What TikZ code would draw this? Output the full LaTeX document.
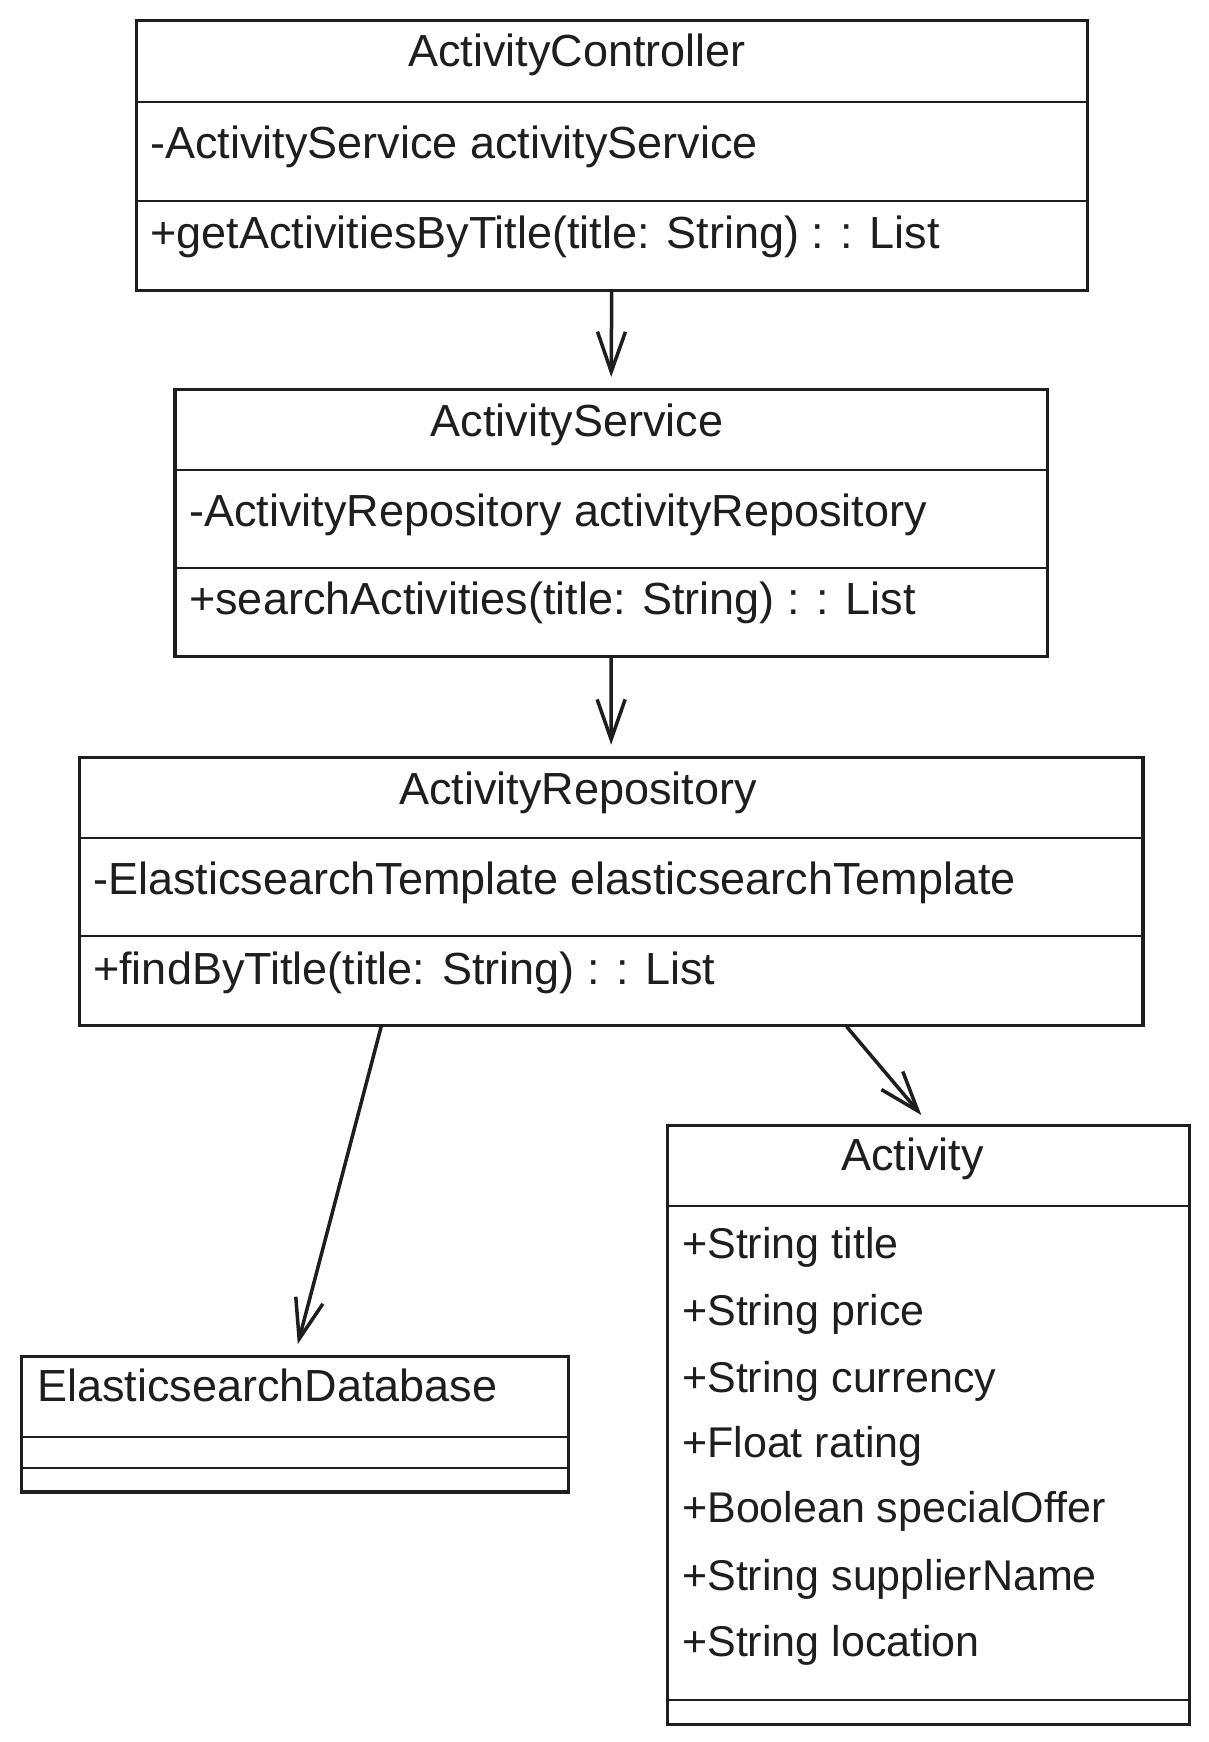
\documentclass[tikz,border=0pt]{standalone}
\usepackage{fontspec}
\setmainfont{Liberation Sans}
\usetikzlibrary{arrows.meta}
\definecolor{ink}{HTML}{1E1E1E}
\begin{document}
\begin{tikzpicture}[x=1pt,y=-1pt,
  box/.style={draw=ink, line width=3.2pt, anchor=north west, inner sep=0pt},
  divider/.style={draw=ink, line width=2.4pt},
  ctitle/.style={font=\fontsize{45}{54}\selectfont, anchor=base, inner sep=0pt, text=ink},
  member/.style={font=\fontsize{45}{54}\selectfont, anchor=base west, inner sep=0pt, text=ink},
  attr/.style={member, font=\fontsize{43}{52}\selectfont},
  arr/.style={draw=ink, line width=3.5pt, -{Straight Barb[length=40pt,width=28pt,line width=3.5pt]}, shorten >=11pt},
]
\useasboundingbox (0,0) rectangle (1208,1742);

% ActivityController
\node[box, minimum width=951.2pt, minimum height=270pt] (ac) at (134.5,19) {};
\draw[divider] ([yshift=-83pt]ac.north west) -- ([yshift=-83pt]ac.north east);
\draw[divider] ([yshift=-182pt]ac.north west) -- ([yshift=-182pt]ac.north east);
\node[ctitle] (act) at (577,67) {ActivityController};
\node[member] (aca) at (150,158) {-ActivityService activityService};
\node[member] (acm) at (150,248) {+getActivitiesByTitle(title: String) : : List};

% ActivityService
\node[box, minimum width=872.3pt, minimum height=266.8pt] (as) at (173.4,388) {};
\draw[divider] ([yshift=-82pt]as.north west) -- ([yshift=-82pt]as.north east);
\draw[divider] ([yshift=-180pt]as.north west) -- ([yshift=-180pt]as.north east);
\node[ctitle] (ast) at (577,436) {ActivityService};
\node[member] (asa) at (189,526) {-ActivityRepository activityRepository};
\node[member] (asm) at (189,614) {+searchActivities(title: String) : : List};

% ActivityRepository
\node[box, minimum width=1063.5pt, minimum height=267.8pt] (ar) at (77.8,755.7) {};
\draw[divider] ([yshift=-82.3pt]ar.north west) -- ([yshift=-82.3pt]ar.north east);
\draw[divider] ([yshift=-180.3pt]ar.north west) -- ([yshift=-180.3pt]ar.north east);
\node[ctitle] (art) at (578,804) {ActivityRepository};
\node[member] (ara) at (93,894) {-ElasticsearchTemplate elasticsearchTemplate};
\node[member] (arm) at (93,984) {+findByTitle(title: String) : : List};

% ElasticsearchDatabase
\node[box, minimum width=546.8pt, minimum height=135.6pt] (ed) at (20,1354.7) {};
\draw[divider] ([yshift=-82.3pt]ed.north west) -- ([yshift=-82.3pt]ed.north east);
\draw[divider] ([yshift=-113.3pt]ed.north west) -- ([yshift=-113.3pt]ed.north east);
\node[member] (edt) at (37,1401) {ElasticsearchDatabase};

% Activity
\node[box, minimum width=522.3pt, minimum height=599pt] (av) at (665.7,1123.5) {};
\draw[divider] ([yshift=-82.3pt]av.north west) -- ([yshift=-82.3pt]av.north east);
\draw[divider] ([yshift=-576.5pt]av.north west) -- ([yshift=-576.5pt]av.north east);
\node[ctitle] (avt) at (912.7,1170) {Activity};
\node[attr] (av1) at (682,1258) {+String title};
\node[attr] (av2) at (682,1325.6) {+String price};
\node[attr] (av3) at (682,1392) {+String currency};
\node[attr] (av4) at (682,1457.7) {+Float rating};
\node[attr] (av5) at (682,1522.5) {+Boolean specialOffer};
\node[attr] (av6) at (682,1590.2) {+String supplierName};
\node[attr] (av7) at (682,1656) {+String location};

% connectors
\draw[arr] (ac.south) -- (as.north);
\draw[arr] (as.south) -- (ar.north);
\draw[arr] ([xshift=-230pt]ar.south) -- (ed.north);
\draw[arr] ([xshift=235.5pt]ar.south) -- (av.north);
\end{tikzpicture}
\end{document}
